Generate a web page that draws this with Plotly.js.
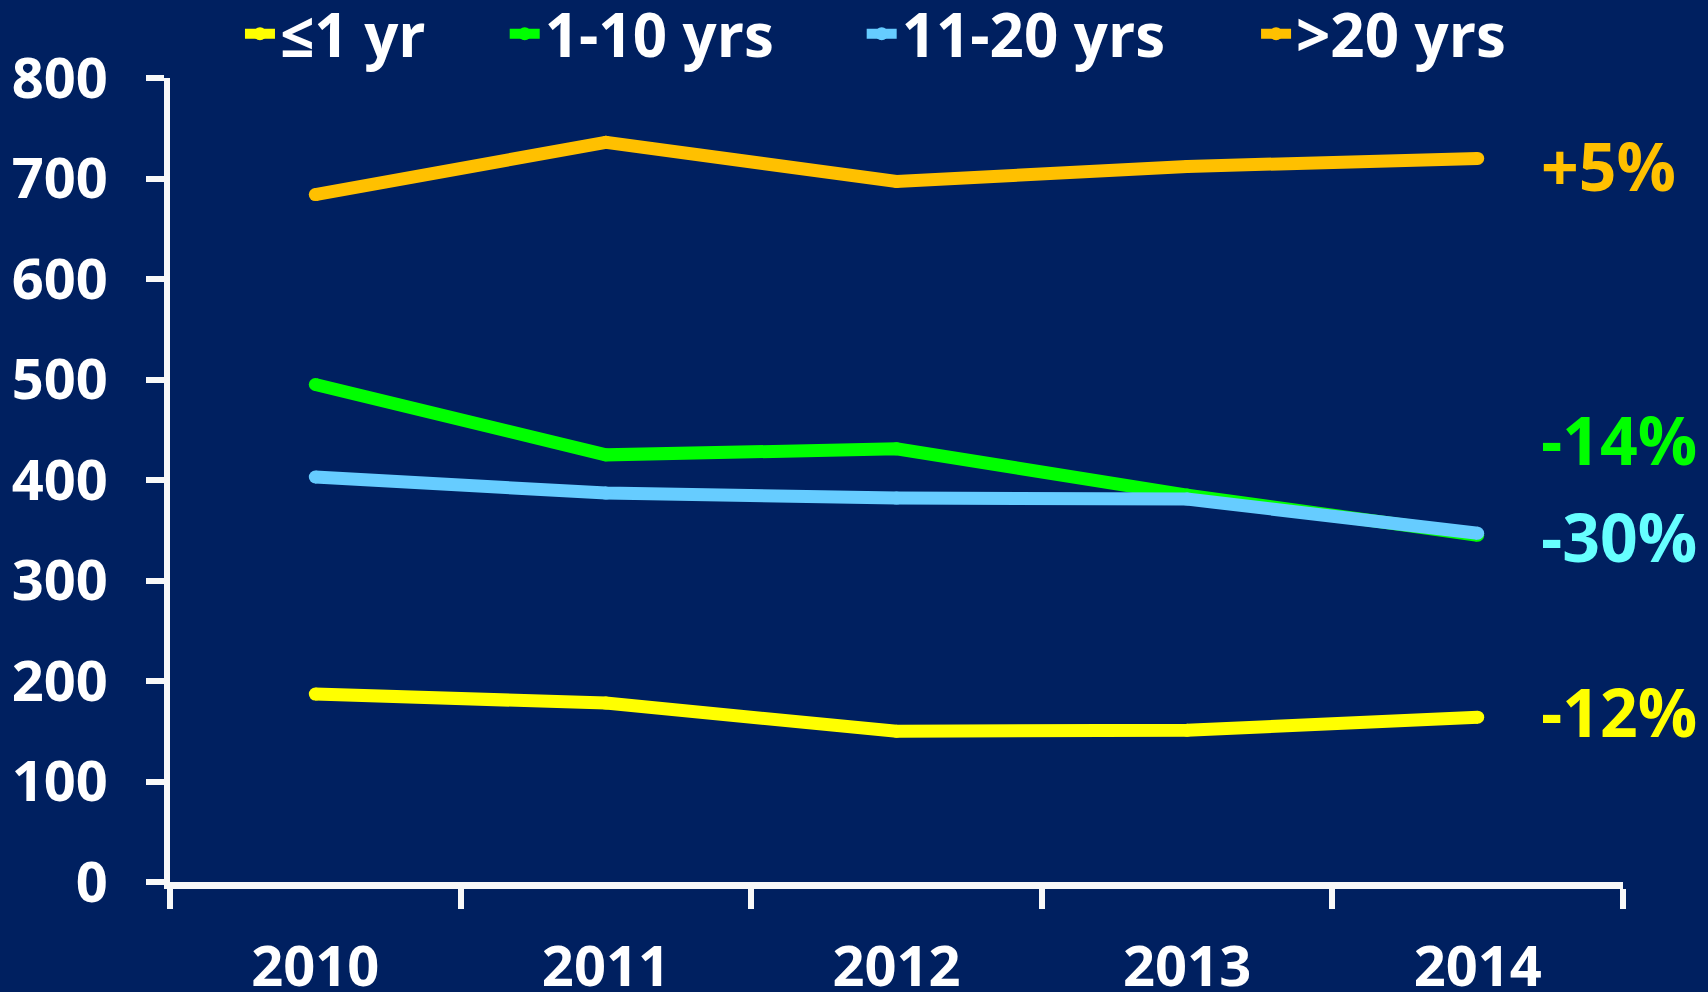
<!DOCTYPE html>
<html>
<head>
<meta charset="utf-8">
<script src="https://cdn.plot.ly/plotly-3.0.1.min.js"></script>
<style>
  html, body { margin: 0; padding: 0; background: #002060; }
  #chart { width: 1708px; height: 992px; }
</style>
</head>
<body>
<div id="chart"></div>
<script>
// ---- data ----
const years = ['2010', '2011', '2012', '2013', '2014'];
const seriesNames = ['\u22641 yr', '1-10 yrs', '11-20 yrs', '>20 yrs'];
const le1yr   = [187, 178, 150, 151, 164];
const yrs1to10  = [495, 425, 431, 385, 345];
const yrs11to20 = [403, 387, 382, 381, 347];
const gt20yrs   = [684, 736, 697, 712, 720];
const changeLabels = ['-12%', '-14%', '-30%', '+5%'];
const yTicks = [0, 100, 200, 300, 400, 500, 600, 700, 800];

const colors = ['#FFFF00', '#00FF00', '#66CCFF', '#FFC000'];
const labelColors = ['#FFFF00', '#00FF00', '#66FFFF', '#FFC000'];
const values = [le1yr, yrs1to10, yrs11to20, gt20yrs];
const legendIds = ['legend', 'legend2', 'legend3', 'legend4'];

const FONT = '"Open Sans", "Noto Sans", sans-serif';
const AXIS_COLOR = '#F8F8F8';

const traces = values.map((v, i) => ({
  type: 'scatter',
  mode: 'lines+markers',
  x: years,
  y: v,
  name: seriesNames[i],
  legend: legendIds[i],
  line: { color: colors[i], width: 13 },
  marker: { color: colors[i], size: 13 },
  hoverinfo: 'x+y+name'
}));

function legendAt(x) {
  return {
    orientation: 'h',
    xref: 'container', x: x, xanchor: 'left',
    yref: 'container', y: 0.966, yanchor: 'middle',
    bgcolor: 'rgba(0,0,0,0)',
    borderwidth: 0,
    font: { family: FONT, size: 60, color: '#FFFFFF', weight: 700 },
    itemwidth: 30
  };
}

// label y positions (data units) beside the 2014 end of each line
const labelY = [170, 441, 344, 713];

const layout = {
  width: 1708,
  height: 992,
  paper_bgcolor: '#002060',
  plot_bgcolor: '#002060',
  margin: { l: 170, r: 85, t: 78, b: 110, pad: 0, autoexpand: false },
  showlegend: true,
  legend: legendAt(0.1405),
  legend2: legendAt(0.2955),
  legend3: legendAt(0.5045),
  legend4: legendAt(0.7354),
  xaxis: {
    type: 'category',
    range: [-0.5, 4.5],
    tickson: 'boundaries',
    ticks: 'outside',
    ticklen: 20,
    tickwidth: 6,
    tickcolor: AXIS_COLOR,
    showline: true,
    linewidth: 7,
    linecolor: AXIS_COLOR,
    showgrid: false,
    zeroline: false,
    ticklabelstandoff: 30,
    tickfont: { family: FONT, size: 56, color: '#FFFFFF', weight: 700 },
    fixedrange: true
  },
  yaxis: {
    range: [0, 800],
    tickvals: yTicks,
    ticktext: yTicks.map(String),
    ticks: 'outside',
    ticklen: 18,
    tickwidth: 6,
    tickcolor: AXIS_COLOR,
    showline: true,
    linewidth: 6,
    linecolor: AXIS_COLOR,
    showgrid: false,
    zeroline: false,
    ticklabelstandoff: 27,
    tickfont: { family: FONT, size: 56, color: '#FFFFFF', weight: 700 },
    fixedrange: true
  },
  annotations: changeLabels.map((t, i) => ({
    text: t,
    xref: 'paper', x: 0.942, xanchor: 'left',
    yref: 'y', y: labelY[i], yanchor: 'middle',
    showarrow: false,
    font: { family: FONT, size: 66, color: labelColors[i], weight: 700 }
  }))
};

Plotly.newPlot('chart', traces, layout, { displayModeBar: false, staticPlot: true });
</script>
</body>
</html>
